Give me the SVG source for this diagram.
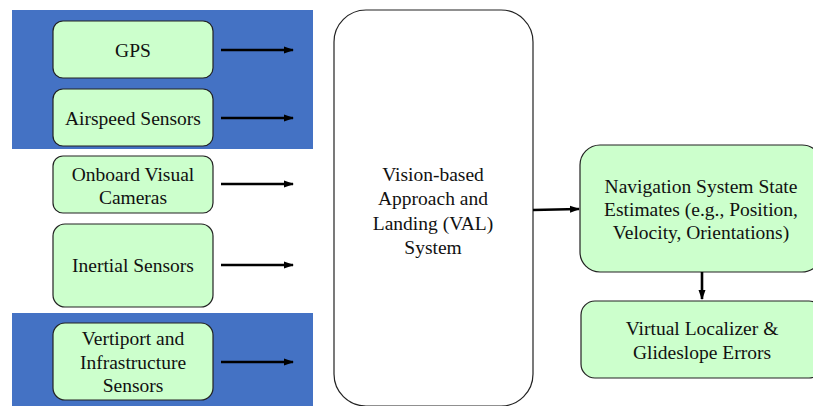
<svg xmlns="http://www.w3.org/2000/svg" width="813" height="406" viewBox="0 0 813 406">
<style>
.panel{fill:#4472c4}
.box{fill:#ccffcc;stroke:#222;stroke-width:1.2}
.big{fill:#fff;stroke:#222;stroke-width:1.2}
.lbl{font-size:19.5px;fill:#111;text-anchor:middle}
.conn line{stroke:#000;stroke-width:2.6;marker-end:url(#ah)}
</style>
<defs>
<marker id="ah" markerWidth="10" markerHeight="8" refX="9" refY="4" orient="auto" markerUnits="userSpaceOnUse">
<path d="M0,0.5 L10,4 L0,7.5 Z" fill="#000"/>
</marker>
</defs>
<rect width="813" height="406" fill="#fff"/>
<rect id="panel-top" class="panel" x="12" y="10" width="301" height="139"/>
<rect id="panel-bottom" class="panel" x="12" y="313" width="301" height="100"/>
<g id="gps">
<rect class="box" x="53" y="21" width="160" height="57" rx="10"/>
<text class="lbl" font-family="Liberation Serif, serif" x="133" y="57">GPS</text>
</g>
<g id="airspeed">
<rect class="box" x="53" y="89" width="160" height="57" rx="10"/>
<text class="lbl" font-family="Liberation Serif, serif" x="133" y="125">Airspeed Sensors</text>
</g>
<g id="cameras">
<rect class="box" x="53" y="156" width="160" height="57" rx="10"/>
<text class="lbl" font-family="Liberation Serif, serif" x="133" y="181">Onboard Visual</text>
<text class="lbl" font-family="Liberation Serif, serif" x="133" y="204">Cameras</text>
</g>
<g id="inertial">
<rect class="box" x="53" y="224" width="160" height="83" rx="12"/>
<text class="lbl" font-family="Liberation Serif, serif" x="133" y="272">Inertial Sensors</text>
</g>
<g id="vertiport">
<rect class="box" x="53" y="323" width="160" height="77" rx="12"/>
<text class="lbl" font-family="Liberation Serif, serif" x="133" y="345">Vertiport and</text>
<text class="lbl" font-family="Liberation Serif, serif" x="133" y="369">Infrastructure</text>
<text class="lbl" font-family="Liberation Serif, serif" x="133" y="392">Sensors</text>
</g>
<g id="val">
<rect class="big" x="334" y="10" width="199" height="396" rx="32"/>
<text class="lbl" font-family="Liberation Serif, serif" x="433" y="181">Vision-based</text>
<text class="lbl" font-family="Liberation Serif, serif" x="433" y="205">Approach and</text>
<text class="lbl" font-family="Liberation Serif, serif" x="433" y="230">Landing (VAL)</text>
<text class="lbl" font-family="Liberation Serif, serif" x="433" y="254">System</text>
</g>
<g id="nav">
<rect class="box" x="580" y="145" width="242" height="127" rx="20"/>
<text class="lbl" font-family="Liberation Serif, serif" x="701" y="193">Navigation System State</text>
<text class="lbl" font-family="Liberation Serif, serif" x="701" y="216">Estimates (e.g., Position,</text>
<text class="lbl" font-family="Liberation Serif, serif" x="701" y="239">Velocity, Orientations)</text>
</g>
<g id="errors">
<rect class="box" x="581" y="301" width="242" height="77" rx="14"/>
<text class="lbl" font-family="Liberation Serif, serif" x="702" y="335">Virtual Localizer &amp;</text>
<text class="lbl" font-family="Liberation Serif, serif" x="702" y="359">Glideslope Errors</text>
</g>
<g class="conn" id="connectors">
<line x1="221" y1="50" x2="293" y2="50"/>
<line x1="221" y1="118" x2="293" y2="118"/>
<line x1="221" y1="184" x2="293" y2="184"/>
<line x1="221" y1="265" x2="293" y2="265"/>
<line x1="221" y1="362" x2="293" y2="362"/>
<line x1="533" y1="210" x2="579" y2="209"/>
<line x1="702" y1="272" x2="702" y2="299"/>
</g>
</svg>
